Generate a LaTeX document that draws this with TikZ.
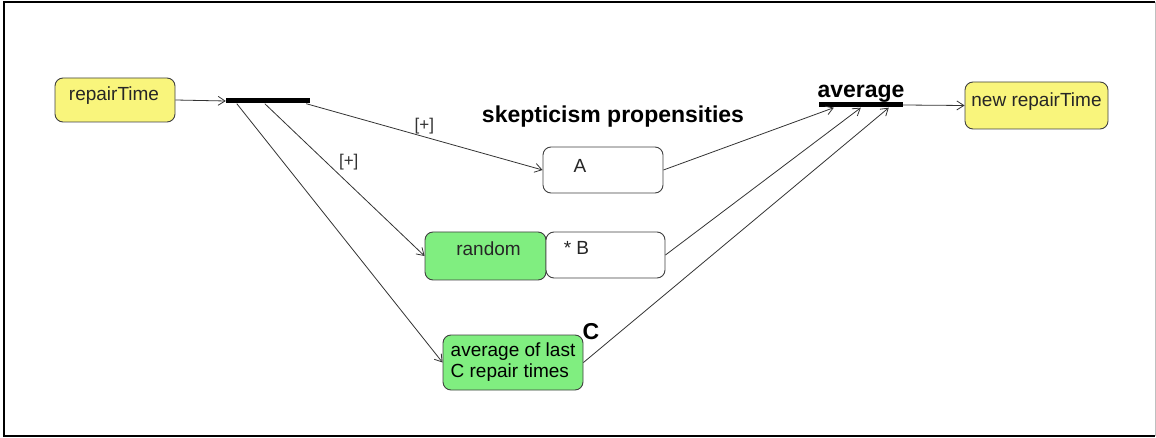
\documentclass[tikz,border=0pt]{standalone}
\usepackage{fontspec}
\setmainfont{Liberation Sans}
\usetikzlibrary{arrows.meta, positioning}
\definecolor{StateYellow}{HTML}{F9F57C}
\definecolor{StateGreen}{HTML}{80EE80}
\definecolor{LineGray}{HTML}{333333}

\begin{document}
\begin{tikzpicture}[
  x=1pt, y=-1pt,
  state/.style={rectangle, rounded corners=8pt, draw=black!75, line width=0.9pt,
                inner sep=0pt, font=\fontsize{19}{21}\selectfont},
  txt/.style={inner sep=0pt, font=\fontsize{19}{21}\selectfont, text=black!85},
  plus/.style={inner sep=2pt, font=\fontsize{17}{19}\selectfont, text=black!80},
  heading/.style={inner sep=0pt, font=\bfseries\fontsize{23}{26}\selectfont},
  bar/.style={rectangle, fill=black, minimum height=5pt, inner sep=0pt},
  flow/.style={-{Straight Barb[length=7pt,width=9pt]}, LineGray, line width=0.8pt}
]
  \useasboundingbox (0,0) rectangle (1156,438);
  \draw[line width=2pt] (1155,2) -- (4,2) -- (4,436) -- (1155,436);
  \draw[black!25, line width=1pt] (1155,2) -- (1155,436);

  % input and split
  \node[state, fill=StateYellow, minimum width=120pt, minimum height=44pt,
        label={[txt, xshift=-1pt, yshift=4pt]center:repairTime}] (repair) at (115,100) {};
  \node[bar, minimum width=84pt] (fork) at (268,101) {};

  % propensities
  \node[heading] (skep) at (613,117) {skepticism propensities};
  \node[state, fill=white, minimum width=120pt, minimum height=46pt,
        label={[txt, xshift=-23pt, yshift=4pt]center:A}] (propA) at (603,170) {};
  \node[state, fill=StateGreen, minimum width=121pt, minimum height=48pt,
        label={[txt, xshift=3pt, yshift=7pt]center:random}] (random) at (485.5,256) {};
  \node[state, fill=white, minimum width=119pt, minimum height=46pt,
        label={[txt, xshift=-29pt, yshift=7pt]center:* B}] (propB) at (605.5,255) {};
  \node[state, fill=StateGreen, minimum width=140pt, minimum height=55pt,
        align=left] (avgC) at (513,362.5) {average of last\\C repair times};
  \node[heading, anchor=base west, xshift=-1pt, yshift=-5pt] (labC) at (avgC.north east) {C};

  % join and output
  \node[bar, minimum width=84pt] (join) at (861,105) {};
  \node[heading, above=0pt of join] (avglab) {average};
  \node[state, fill=StateYellow, minimum width=143pt, minimum height=47pt,
        label={[txt, yshift=4pt]center:new repairTime}] (newrepair) at (1036.5,105.5) {};

  \draw[flow] (repair.east) -- (fork.west);
  \draw[flow] ([xshift=-4pt]fork.south east) -- node[plus, above] {[+]} (propA.west);
  \draw[flow] ([xshift=39pt]fork.south west) -- node[plus, above right, pos=0.45] {[+]} (random.west);
  \draw[flow] ([xshift=11pt]fork.south west) -- (avgC.west);
  \draw[flow] (propA.east) -- ([xshift=15pt]join.south west);
  \draw[flow] (propB.east) -- ([xshift=42pt]join.south west);
  \draw[flow] (avgC.east) -- ([xshift=70pt]join.south west);
  \draw[flow] (join.east) -- (newrepair.west);
\end{tikzpicture}
\end{document}
